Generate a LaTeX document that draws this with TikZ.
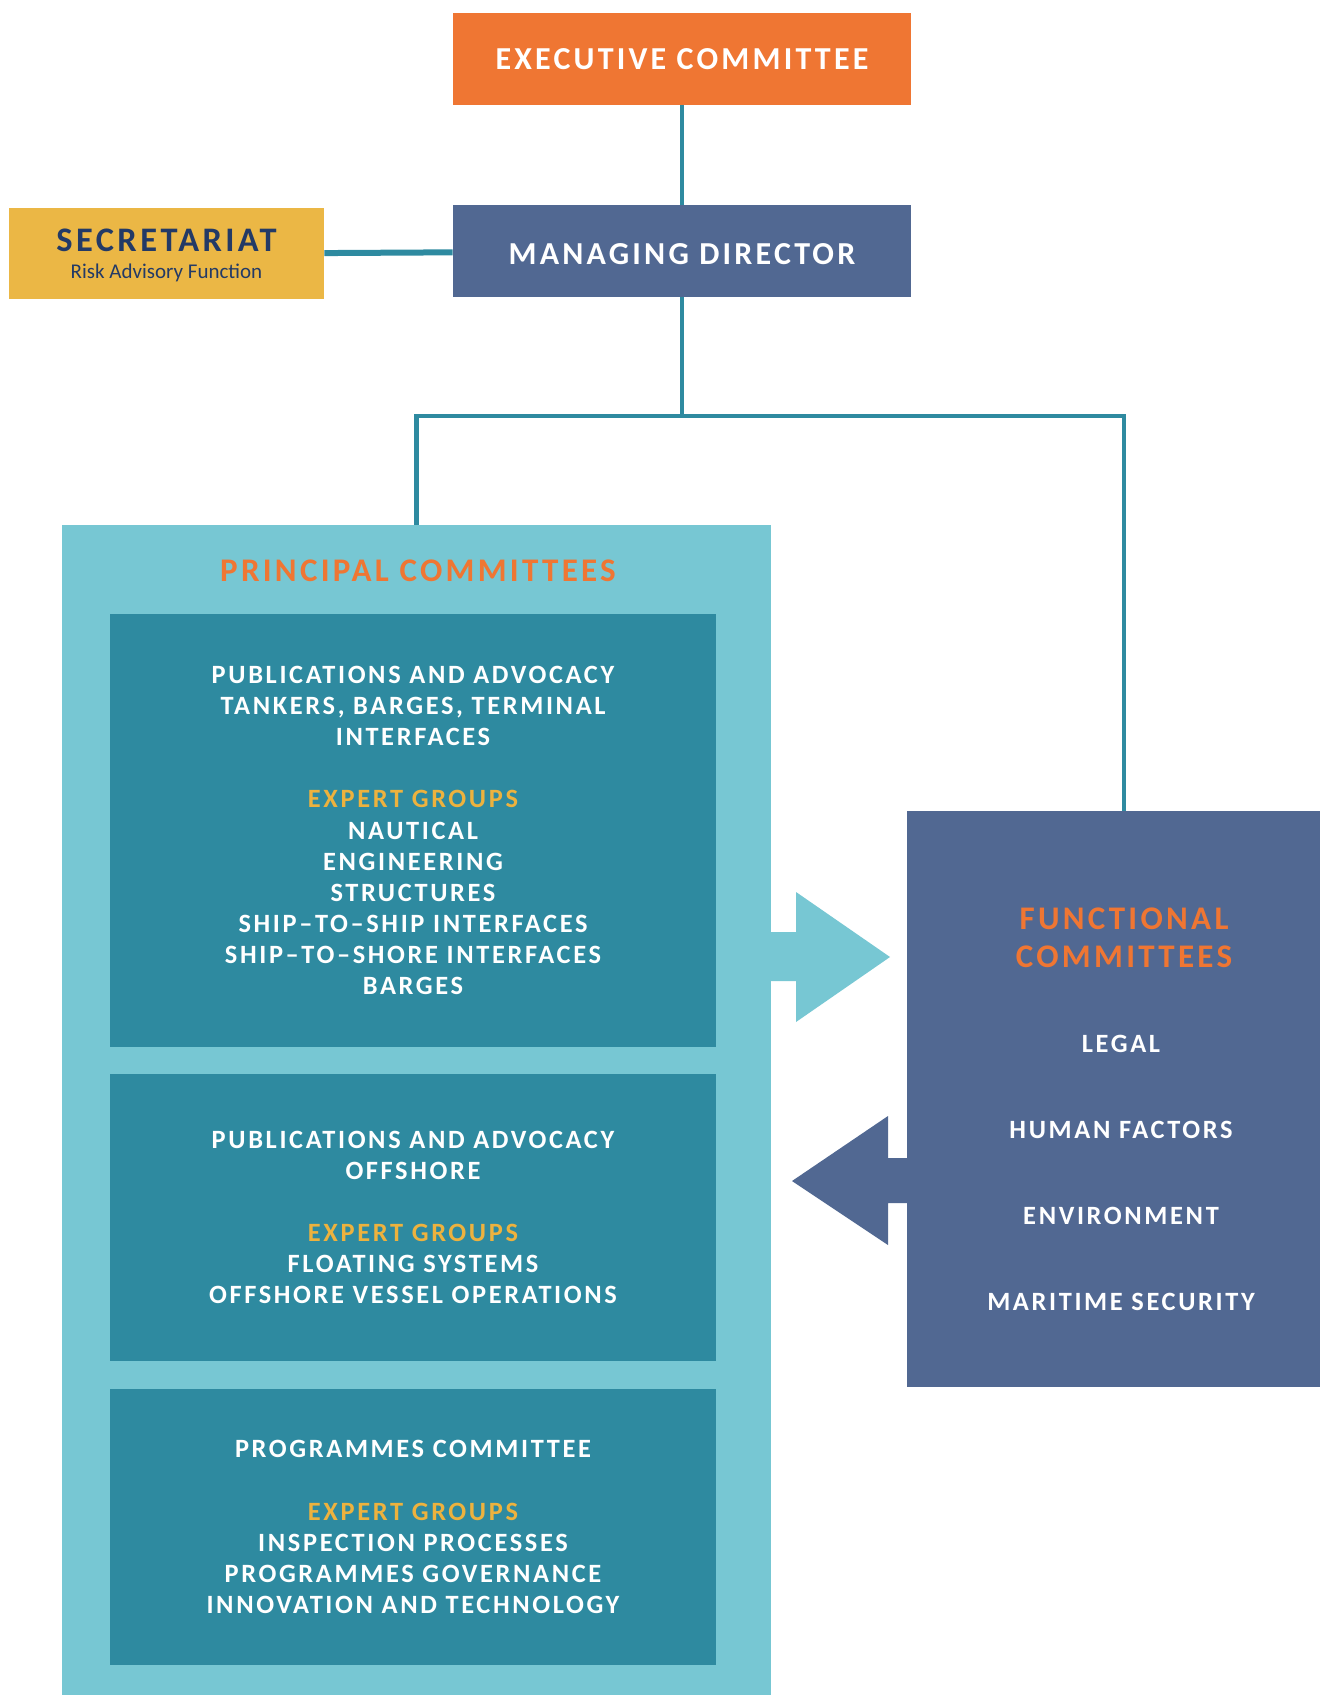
\documentclass[tikz,border=0pt]{standalone}
\usepackage{fontspec}
\setmainfont{Carlito}
\newfontfamily\capsfont[LetterSpace=10]{Carlito}
\usetikzlibrary{positioning,calc}

\definecolor{execorange}{HTML}{EF7633}
\definecolor{slateblue}{HTML}{516892}
\definecolor{deepteal}{HTML}{2E8AA0}
\definecolor{paleteal}{HTML}{77C7D3}
\definecolor{mustard}{HTML}{EBB745}
\definecolor{inknavy}{HTML}{233A66}
\definecolor{groupgold}{HTML}{EDB23E}

\begin{document}
\begin{tikzpicture}[x=0.5pt, y=-0.5pt,
    box/.style={rectangle, inner sep=0pt, align=center, text=white, font=\capsfont\bfseries\fontsize{16}{19}\selectfont},
    groupbox/.style={rectangle, fill=deepteal, inner sep=0pt, align=center, text=white, minimum width=303pt, font=\capsfont\bfseries\fontsize{13.2}{15.55}\selectfont},
    panelhead/.style={align=center, text=execorange, font=\capsfont\bfseries\fontsize{16.5}{18.9}\selectfont},
    funcitem/.style={text=white, font=\capsfont\bfseries\fontsize{13.2}{15}\selectfont},
    link/.style={draw=deepteal, line width=2.2pt}
]
\useasboundingbox (0,0) rectangle (1319,1695);

% top of the chart
\node[box, fill=execorange, minimum width=229pt, minimum height=46pt] (exec) at (682,59) {EXECUTIVE COMMITTEE};
\node[box, fill=slateblue, minimum width=229pt, minimum height=46pt, text height=14pt] (md) at (682,251) {MANAGING DIRECTOR};
\node[box, fill=mustard, minimum width=157.5pt, minimum height=45.5pt, text=inknavy, text depth=0pt,
      font=\capsfont\bfseries\fontsize{17.2}{19}\selectfont] (sec) at (166.5,254)
    {SECRETARIAT\\[-5.5pt]{\normalfont\fontsize{10.5}{11}\selectfont Risk Advisory Function}};

% principal committees panel
\node[rectangle, fill=paleteal, inner sep=0pt, minimum width=354.5pt, minimum height=597.5pt] (principal) at (416.5,1122.5) {};
\node[panelhead] (ptitle) at (418,571) {PRINCIPAL COMMITTEES};

\node[groupbox, minimum height=216.5pt] (pc1) at (413,830.5) {PUBLICATIONS AND ADVOCACY\\TANKERS, BARGES, TERMINAL\\INTERFACES\\[15.55pt]
    {\color{groupgold}EXPERT GROUPS}\\NAUTICAL\\ENGINEERING\\STRUCTURES\\SHIP–TO–SHIP INTERFACES\\SHIP–TO–SHORE INTERFACES\\BARGES};
\node[groupbox, minimum height=143.5pt] (pc2) at (413,1217.5) {PUBLICATIONS AND ADVOCACY\\OFFSHORE\\[15.55pt]
    {\color{groupgold}EXPERT GROUPS}\\FLOATING SYSTEMS\\OFFSHORE VESSEL OPERATIONS};
\node[groupbox, minimum height=138pt] (pc3) at (413,1527) {PROGRAMMES COMMITTEE\\[15.55pt]
    {\color{groupgold}EXPERT GROUPS}\\INSPECTION PROCESSES\\PROGRAMMES GOVERNANCE\\INNOVATION AND TECHNOLOGY};

% functional committees panel
\node[rectangle, fill=slateblue, inner sep=0pt, minimum width=217pt, minimum height=288pt] (func) at (1124,1099) {};
\node[panelhead] (ftitle) at (1124,938) {FUNCTIONAL\\COMMITTEES};
\foreach \name [count=\i] in {LEGAL, HUMAN FACTORS, ENVIRONMENT, MARITIME SECURITY}
    \node[funcitem] (fitem\i) at (1121,{958+86*\i}) {\name};

% connectors
\coordinate (split) at (682,416);
\draw[link] (exec) -- (md);
\draw[link, line width=3pt] (sec) -- (md);
\draw[link] (md) -- (split);
\draw[link] (principal.north) |- (split) -| (func.north);

% block arrows between the panels
\fill[paleteal] (771,932) -- (796,932) -- (796,892) -- (890,957) -- (796,1022) -- (796,981) -- (771,981) -- cycle;
\fill[slateblue] (907,1158) -- (888,1158) -- (888,1116) -- (792,1181) -- (888,1245) -- (888,1203) -- (907,1203) -- cycle;

\end{tikzpicture}
\end{document}
